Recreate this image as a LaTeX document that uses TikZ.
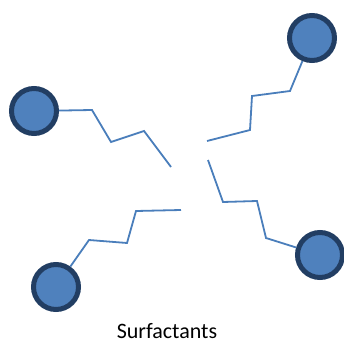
\documentclass[tikz,border=0pt]{standalone}
\usepackage{fontspec}
\setmainfont{Carlito}
\definecolor{headfill}{HTML}{4F81BD}
\definecolor{headdraw}{HTML}{223E63}
\definecolor{tail}{HTML}{4A7EBB}
\begin{document}
\begin{tikzpicture}[x=1pt,y=-1pt,
  head/.style={circle,fill=headfill,draw=headdraw,line width=5pt,minimum size=45pt,inner sep=0pt,outer sep=2.5pt},
  tailline/.style={draw=tail,line width=1.8pt,line join=miter}]
\useasboundingbox (0,0) rectangle (344,345);
\node[head] (h1) at (34,111) {};
\node[head] (h2) at (312,38) {};
\node[head] (h3) at (56,287) {};
\node[head] (h4) at (320,255) {};
\coordinate (e1) at (171,167);
\coordinate (e2) at (207,141);
\coordinate (e3) at (181,210);
\coordinate (e4) at (208,160);
\path[tailline] (h1) -- (92,110) -- (111,142) -- (144,131) -- (e1);
\path[tailline] (h2) -- (290,91) -- (252,96) -- (250,130) -- (e2);
\path[tailline] (h3) -- (89,240) -- (127,243) -- (136,211) -- (e3);
\path[tailline] (h4) -- (266,238) -- (257,201) -- (223,202) -- (e4);
\node[font=\fontsize{22}{24}\selectfont,inner sep=0pt] (lbl) at (167,331) {Surfactants};
\end{tikzpicture}
\end{document}
